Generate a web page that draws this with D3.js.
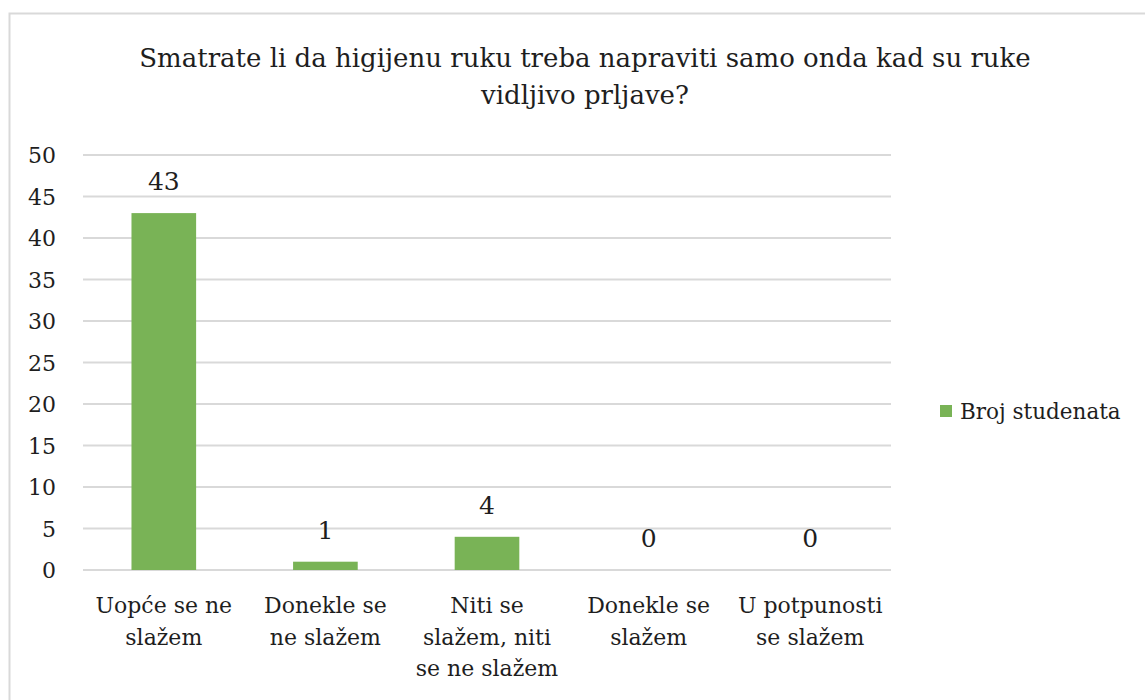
<!DOCTYPE html>
<html>
<head>
<meta charset="utf-8">
<script src="https://cdn.jsdelivr.net/npm/d3@7"></script>
<style>
  body { margin: 0; background: #fff; }
</style>
</head>
<body>
<svg width="1145" height="700"></svg>
<script>
const categories = [
    ["Uopće se ne", "slažem"],
    ["Donekle se", "ne slažem"],
    ["Niti se", "slažem, niti", "se ne slažem"],
    ["Donekle se", "slažem"],
    ["U potpunosti", "se slažem"]
];
const values = [43, 1, 4, 0, 0];
const yTicks = [0, 5, 10, 15, 20, 25, 30, 35, 40, 45, 50];
const seriesName = "Broj studenata";
const titleLines = ["Smatrate li da higijenu ruku treba napraviti samo onda kad su ruke", "vidljivo prljave?"];

const font = "'DejaVu Serif', serif";

const svg = d3.select("svg")
    .attr("font-family", font)
    .attr("fill", "#1e1e1e");

// outer frame (right and bottom edges run off the picture)
svg.append("rect")
    .attr("x", 9.5).attr("y", 13.5)
    .attr("width", 1160).attr("height", 720)
    .attr("fill", "none").attr("stroke", "#d9d9d9").attr("stroke-width", 2);

const plotLeft = 83, plotRight = 891, plotTop = 155, plotBottom = 570;

const yScale = d3.scaleLinear().domain([0, 50]).range([plotBottom, plotTop]);
const xScale = d3.scaleBand()
    .domain(d3.range(values.length))
    .range([plotLeft, plotRight])
    .paddingInner(0.6).paddingOuter(0.3);

// title
svg.append("text")
    .attr("text-anchor", "middle")
    .attr("font-size", 26)
    .selectAll("tspan")
    .data(titleLines)
    .enter().append("tspan")
    .attr("x", 585)
    .attr("y", (d, i) => 67 + i * 37)
    .text(d => d);

// grid
svg.append("g")
    .selectAll("line")
    .data(yTicks)
    .enter().append("line")
    .attr("x1", plotLeft).attr("x2", plotRight)
    .attr("y1", d => yScale(d)).attr("y2", d => yScale(d))
    .attr("stroke", "#d9d9d9").attr("stroke-width", 1.8);

// y labels
svg.append("g")
    .selectAll("text")
    .data(yTicks)
    .enter().append("text")
    .attr("x", 56)
    .attr("y", d => yScale(d) + 8)
    .attr("text-anchor", "end")
    .attr("font-size", 22)
    .text(d => d);

// bars
svg.append("g")
    .selectAll("rect")
    .data(values)
    .enter().append("rect")
    .attr("x", (d, i) => xScale(i))
    .attr("y", d => yScale(d))
    .attr("width", xScale.bandwidth())
    .attr("height", d => plotBottom - yScale(d))
    .attr("fill", "#79b356");

// value labels
svg.append("g")
    .selectAll("text")
    .data(values)
    .enter().append("text")
    .attr("x", (d, i) => xScale(i) + xScale.bandwidth() / 2)
    .attr("y", d => yScale(d) - 23)
    .attr("text-anchor", "middle")
    .attr("font-size", 25)
    .text(d => d);

// category labels
const cat = svg.append("g")
    .selectAll("text")
    .data(categories)
    .enter().append("text")
    .attr("text-anchor", "middle")
    .attr("font-size", 22);
cat.selectAll("tspan")
    .data((d, i) => d.map(s => ({s, i})))
    .enter().append("tspan")
    .attr("x", d => xScale(d.i) + xScale.bandwidth() / 2)
    .attr("y", (d, j) => 613 + j * 31.5)
    .text(d => d.s);

// legend
svg.append("rect")
    .attr("x", 940).attr("y", 405)
    .attr("width", 12).attr("height", 12)
    .attr("fill", "#79b356");
svg.append("text")
    .attr("x", 960).attr("y", 419)
    .attr("font-size", 21.5)
    .text(seriesName);
</script>
</body>
</html>
